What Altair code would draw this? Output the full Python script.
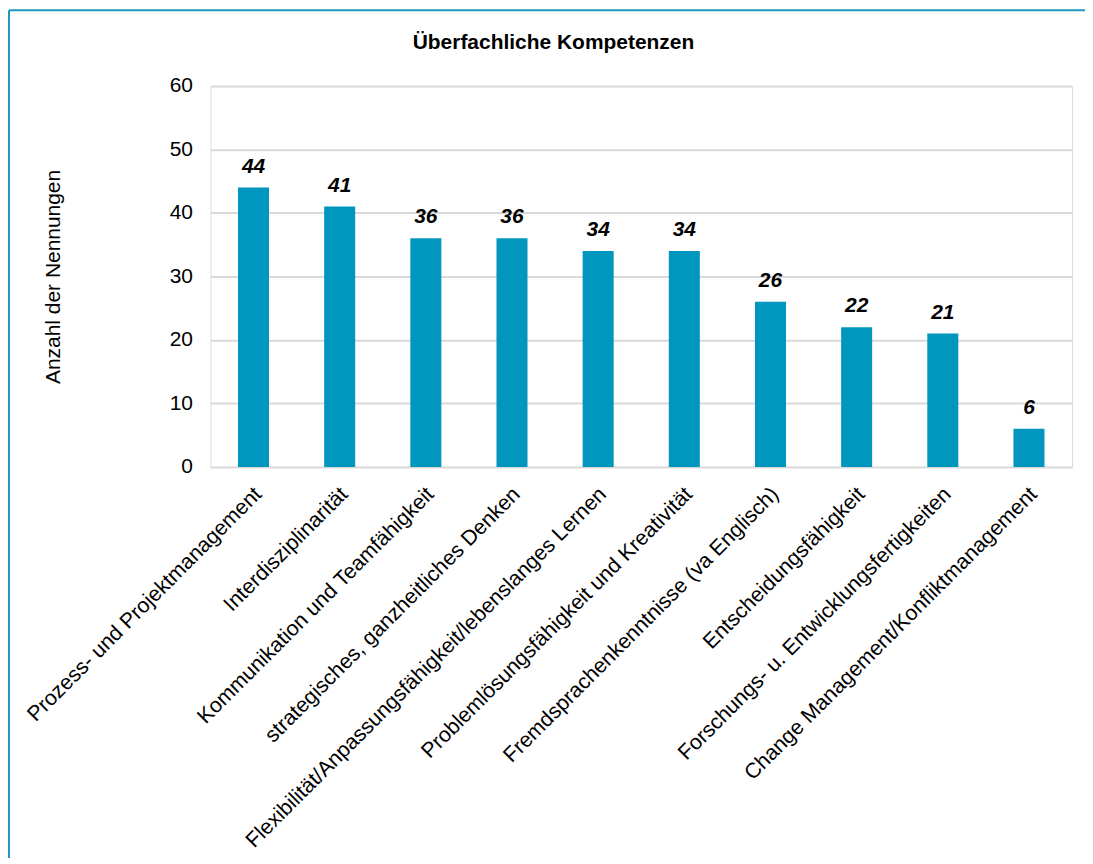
import altair as alt
import pandas as pd

categories = [
    "Prozess- und Projektmanagement",
    "Interdisziplinarität",
    "Kommunikation und Teamfähigkeit",
    "strategisches, ganzheitliches Denken",
    "Flexibilität/Anpassungsfähigkeit/lebenslanges Lernen",
    "Problemlösungsfähigkeit und Kreativität",
    "Fremdsprachenkenntnisse (va Englisch)",
    "Entscheidungsfähigkeit",
    "Forschungs- u. Entwicklungsfertigkeiten",
    "Change Management/Konfliktmanagement",
]
values = [44, 41, 36, 36, 34, 34, 26, 22, 21, 6]
y_ticks = [0, 10, 20, 30, 40, 50, 60]
chart_title = "Überfachliche Kompetenzen"

df = pd.DataFrame({"cat": categories, "val": values})
FONT = "Liberation Sans"
BAR = "#0096be"

x_enc = alt.X(
    "cat:N",
    sort=categories,
    scale=alt.Scale(paddingInner=0.64, paddingOuter=0.32),
    axis=alt.Axis(
        title=None,
        labelAngle=315,
        labelAlign="right",
        labelBaseline="middle",
        labelPadding=24,
        labelOffset=5,
        labelFontSize=21.3,
        labelFont=FONT,
        labelColor="#000",
        labelLimit=1000,
        ticks=False,
        domain=False,
        grid=False,
    ),
)
y_enc = alt.Y(
    "val:Q",
    scale=alt.Scale(domain=[0, 60], nice=False),
    axis=alt.Axis(
        title="Anzahl der Nennungen",
        values=y_ticks,
        labelFontSize=21,
        labelFont=FONT,
        labelColor="#000",
        labelPadding=18,
        ticks=False,
        domain=False,
        grid=True,
        gridColor="#d9d9d9",
        gridWidth=2,
        titleFont=FONT,
        titleFontSize=21,
        titleFontWeight="normal",
        titleColor="#000",
        titleAngle=270,
        titleX=-157,
        titleY=191,
        titleAlign="center",
        titleBaseline="middle",
    ),
)

base = alt.Chart(df)
bars = base.mark_bar(color=BAR).encode(x=x_enc, y=y_enc)
labels = base.mark_text(
    font=FONT, fontSize=21, fontWeight="bold", fontStyle="italic",
    color="#000", baseline="alphabetic", dy=-15,
).encode(x=alt.X("cat:N", sort=categories), y="val:Q", text="val:Q")

frame_df = pd.DataFrame({"a": [0]})
left_line = alt.Chart(frame_df).mark_rule(color="#1b9bc0", strokeWidth=2).encode(
    x=alt.value(-202), y=alt.value(-76), y2=alt.value(800)
)
top_line = alt.Chart(frame_df).mark_rule(color="#1b9bc0", strokeWidth=2).encode(
    x=alt.value(-202), x2=alt.value(900), y=alt.value(-76)
)
title_text = alt.Chart(frame_df).mark_text(
    font=FONT, fontSize=21, fontWeight="bold", color="#000",
    align="center", baseline="alphabetic",
).encode(x=alt.value(344), y=alt.value(-37.5), text=alt.value(chart_title))

chart = (
    alt.layer(bars, labels, left_line, top_line, title_text)
    .properties(
        width=864,
        height=382,
        autosize=alt.AutoSizeParams(type="none"),
        padding={"left": 203, "top": 77, "right": 13, "bottom": 391},
    )
    .configure_view(stroke=None)
    .configure(background="white")
)

chart.save("out.html", embed_options={"renderer": "svg", "actions": False})
